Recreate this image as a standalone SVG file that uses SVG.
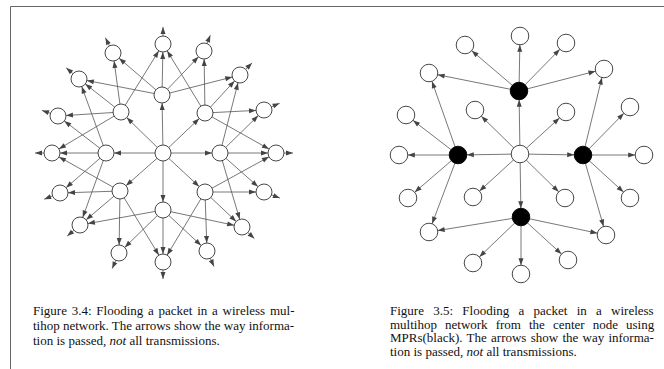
<svg xmlns="http://www.w3.org/2000/svg" width="664" height="369" viewBox="0 0 664 369">
<style>
.n{fill:#fff;stroke:#333;stroke-width:0.9}
.k{fill:#000;stroke:#000;stroke-width:0.9}
.a{stroke:#555;stroke-width:0.8;fill:none;marker-end:url(#ah)}
.b{stroke:#555;stroke-width:0.8;fill:none;marker-end:url(#bh)}
.s{stroke:#555;stroke-width:0.8;fill:none;marker-end:url(#sh)}
.frame{stroke:#666;stroke-width:1;fill:none}
.cap{font-family:"Liberation Serif","Times New Roman",serif;font-size:13px;fill:#111}
</style>
<defs>
<marker id="ah" markerUnits="userSpaceOnUse" markerWidth="16" markerHeight="6" refX="15" refY="2.5" orient="auto" overflow="visible"><path d="M0,0 L7,2.5 L0,5 z" fill="#444"/></marker>
<marker id="bh" markerUnits="userSpaceOnUse" markerWidth="17" markerHeight="6" refX="15.8" refY="2.5" orient="auto" overflow="visible"><path d="M0,0 L7,2.5 L0,5 z" fill="#444"/></marker>
<marker id="sh" markerUnits="userSpaceOnUse" markerWidth="8" markerHeight="6" refX="7" refY="2.5" orient="auto" overflow="visible"><path d="M0,0 L7,2.5 L0,5 z" fill="#444"/></marker>
</defs>
<rect width="664" height="369" fill="#fff"/>
<path class="frame" d="M10.5,369 V6.5 H664"/>

<g id="connectors-left">
<line class="a" x1="163" y1="153" x2="162" y2="95"/>
<line class="a" x1="163" y1="153" x2="205" y2="113"/>
<line class="a" x1="163" y1="153" x2="220" y2="153"/>
<line class="a" x1="163" y1="153" x2="205" y2="192"/>
<line class="a" x1="163" y1="153" x2="163" y2="210"/>
<line class="a" x1="163" y1="153" x2="120" y2="191"/>
<line class="a" x1="163" y1="153" x2="106" y2="153"/>
<line class="a" x1="163" y1="153" x2="121" y2="112"/>
<line class="a" x1="162" y1="95" x2="79" y2="79"/>
<line class="a" x1="162" y1="95" x2="113" y2="53"/>
<line class="a" x1="162" y1="95" x2="163" y2="44"/>
<line class="a" x1="162" y1="95" x2="204" y2="51"/>
<line class="a" x1="162" y1="95" x2="240" y2="75"/>
<line class="a" x1="205" y1="113" x2="163" y2="44"/>
<line class="a" x1="205" y1="113" x2="204" y2="51"/>
<line class="a" x1="205" y1="113" x2="240" y2="75"/>
<line class="a" x1="205" y1="113" x2="264" y2="110"/>
<line class="a" x1="205" y1="113" x2="276" y2="153"/>
<line class="a" x1="220" y1="153" x2="240" y2="75"/>
<line class="a" x1="220" y1="153" x2="264" y2="110"/>
<line class="a" x1="220" y1="153" x2="276" y2="153"/>
<line class="a" x1="220" y1="153" x2="264" y2="192"/>
<line class="a" x1="220" y1="153" x2="242" y2="227"/>
<line class="a" x1="205" y1="192" x2="276" y2="153"/>
<line class="a" x1="205" y1="192" x2="264" y2="192"/>
<line class="a" x1="205" y1="192" x2="242" y2="227"/>
<line class="a" x1="205" y1="192" x2="207" y2="251"/>
<line class="a" x1="205" y1="192" x2="163" y2="262"/>
<line class="a" x1="163" y1="210" x2="242" y2="227"/>
<line class="a" x1="163" y1="210" x2="207" y2="251"/>
<line class="a" x1="163" y1="210" x2="163" y2="262"/>
<line class="a" x1="163" y1="210" x2="119" y2="253"/>
<line class="a" x1="163" y1="210" x2="80" y2="225"/>
<line class="a" x1="120" y1="191" x2="163" y2="262"/>
<line class="a" x1="120" y1="191" x2="119" y2="253"/>
<line class="a" x1="120" y1="191" x2="80" y2="225"/>
<line class="a" x1="120" y1="191" x2="60" y2="193"/>
<line class="a" x1="120" y1="191" x2="52" y2="153"/>
<line class="a" x1="106" y1="153" x2="80" y2="225"/>
<line class="a" x1="106" y1="153" x2="60" y2="193"/>
<line class="a" x1="106" y1="153" x2="52" y2="153"/>
<line class="a" x1="106" y1="153" x2="58" y2="116"/>
<line class="a" x1="106" y1="153" x2="79" y2="79"/>
<line class="a" x1="121" y1="112" x2="52" y2="153"/>
<line class="a" x1="121" y1="112" x2="58" y2="116"/>
<line class="a" x1="121" y1="112" x2="79" y2="79"/>
<line class="a" x1="121" y1="112" x2="113" y2="53"/>
<line class="a" x1="121" y1="112" x2="163" y2="44"/>
<line class="s" x1="163" y1="44" x2="163" y2="27"/>
<line class="s" x1="204" y1="51" x2="210.3" y2="35.2"/>
<line class="s" x1="240" y1="75" x2="252" y2="62.9"/>
<line class="s" x1="264" y1="110" x2="279.6" y2="103.3"/>
<line class="s" x1="276" y1="153" x2="293" y2="153"/>
<line class="s" x1="264" y1="192" x2="279.9" y2="198.1"/>
<line class="s" x1="242" y1="227" x2="254.4" y2="238.6"/>
<line class="s" x1="207" y1="251" x2="214" y2="266.5"/>
<line class="s" x1="163" y1="262" x2="163" y2="279"/>
<line class="s" x1="119" y1="253" x2="112.2" y2="268.6"/>
<line class="s" x1="80" y1="225" x2="67.2" y2="236.1"/>
<line class="s" x1="60" y1="193" x2="44.2" y2="199.2"/>
<line class="s" x1="52" y1="153" x2="35" y2="153"/>
<line class="s" x1="58" y1="116" x2="42" y2="110.4"/>
<line class="s" x1="79" y1="79" x2="66.2" y2="67.8"/>
<line class="s" x1="113" y1="53" x2="105.4" y2="37.8"/>
</g>

<g id="connectors-right">
<line class="b" x1="520" y1="154" x2="519" y2="91"/>
<line class="b" x1="520" y1="154" x2="458" y2="155"/>
<line class="b" x1="520" y1="154" x2="583" y2="155"/>
<line class="b" x1="520" y1="154" x2="521" y2="217"/>
<line class="b" x1="520" y1="154" x2="475" y2="110"/>
<line class="b" x1="520" y1="154" x2="566" y2="112"/>
<line class="b" x1="520" y1="154" x2="473" y2="197"/>
<line class="b" x1="520" y1="154" x2="565" y2="198"/>
<line class="b" x1="519" y1="91" x2="520" y2="36"/>
<line class="b" x1="519" y1="91" x2="465" y2="45"/>
<line class="b" x1="519" y1="91" x2="566" y2="43"/>
<line class="b" x1="519" y1="91" x2="429" y2="73"/>
<line class="b" x1="519" y1="91" x2="604" y2="69"/>
<line class="b" x1="458" y1="155" x2="429" y2="73"/>
<line class="b" x1="458" y1="155" x2="406" y2="115"/>
<line class="b" x1="458" y1="155" x2="399" y2="155"/>
<line class="b" x1="458" y1="155" x2="408" y2="198"/>
<line class="b" x1="458" y1="155" x2="429" y2="232"/>
<line class="b" x1="583" y1="155" x2="604" y2="69"/>
<line class="b" x1="583" y1="155" x2="630" y2="107"/>
<line class="b" x1="583" y1="155" x2="644" y2="155"/>
<line class="b" x1="583" y1="155" x2="630" y2="198"/>
<line class="b" x1="583" y1="155" x2="606" y2="235"/>
<line class="b" x1="521" y1="217" x2="429" y2="232"/>
<line class="b" x1="521" y1="217" x2="606" y2="235"/>
<line class="b" x1="521" y1="217" x2="473" y2="263"/>
<line class="b" x1="521" y1="217" x2="521" y2="274"/>
<line class="b" x1="521" y1="217" x2="568" y2="260"/>
</g>

<g id="left-nodes">
<g id="L-C"><circle class="n" cx="163" cy="153" r="8"/></g>
<g id="L-I0"><circle class="n" cx="162" cy="95" r="8"/></g>
<g id="L-I1"><circle class="n" cx="205" cy="113" r="8"/></g>
<g id="L-I2"><circle class="n" cx="220" cy="153" r="8"/></g>
<g id="L-I3"><circle class="n" cx="205" cy="192" r="8"/></g>
<g id="L-I4"><circle class="n" cx="163" cy="210" r="8"/></g>
<g id="L-I5"><circle class="n" cx="120" cy="191" r="8"/></g>
<g id="L-I6"><circle class="n" cx="106" cy="153" r="8"/></g>
<g id="L-I7"><circle class="n" cx="121" cy="112" r="8"/></g>
<g id="L-O0"><circle class="n" cx="163" cy="44" r="8"/></g>
<g id="L-O1"><circle class="n" cx="204" cy="51" r="8"/></g>
<g id="L-O2"><circle class="n" cx="240" cy="75" r="8"/></g>
<g id="L-O3"><circle class="n" cx="264" cy="110" r="8"/></g>
<g id="L-O4"><circle class="n" cx="276" cy="153" r="8"/></g>
<g id="L-O5"><circle class="n" cx="264" cy="192" r="8"/></g>
<g id="L-O6"><circle class="n" cx="242" cy="227" r="8"/></g>
<g id="L-O7"><circle class="n" cx="207" cy="251" r="8"/></g>
<g id="L-O8"><circle class="n" cx="163" cy="262" r="8"/></g>
<g id="L-O9"><circle class="n" cx="119" cy="253" r="8"/></g>
<g id="L-O10"><circle class="n" cx="80" cy="225" r="8"/></g>
<g id="L-O11"><circle class="n" cx="60" cy="193" r="8"/></g>
<g id="L-O12"><circle class="n" cx="52" cy="153" r="8"/></g>
<g id="L-O13"><circle class="n" cx="58" cy="116" r="8"/></g>
<g id="L-O14"><circle class="n" cx="79" cy="79" r="8"/></g>
<g id="L-O15"><circle class="n" cx="113" cy="53" r="8"/></g>
</g>

<g id="right-nodes">
<g id="R-C"><circle class="n" cx="520" cy="154" r="8.8"/></g>
<g id="R-MPR-top"><circle class="k" cx="519" cy="91" r="8.8"/></g>
<g id="R-MPR-left"><circle class="k" cx="458" cy="155" r="8.8"/></g>
<g id="R-MPR-right"><circle class="k" cx="583" cy="155" r="8.8"/></g>
<g id="R-MPR-bottom"><circle class="k" cx="521" cy="217" r="8.8"/></g>
<g id="R-W1"><circle class="n" cx="475" cy="110" r="8.8"/></g>
<g id="R-W2"><circle class="n" cx="566" cy="112" r="8.8"/></g>
<g id="R-W3"><circle class="n" cx="473" cy="197" r="8.8"/></g>
<g id="R-W4"><circle class="n" cx="565" cy="198" r="8.8"/></g>
<g id="R-T"><circle class="n" cx="520" cy="36" r="8.8"/></g>
<g id="R-TL"><circle class="n" cx="465" cy="45" r="8.8"/></g>
<g id="R-TR"><circle class="n" cx="566" cy="43" r="8.8"/></g>
<g id="R-TLL"><circle class="n" cx="429" cy="73" r="8.8"/></g>
<g id="R-TRR"><circle class="n" cx="604" cy="69" r="8.8"/></g>
<g id="R-L1"><circle class="n" cx="406" cy="115" r="8.8"/></g>
<g id="R-R1"><circle class="n" cx="630" cy="107" r="8.8"/></g>
<g id="R-L2"><circle class="n" cx="399" cy="155" r="8.8"/></g>
<g id="R-R2"><circle class="n" cx="644" cy="155" r="8.8"/></g>
<g id="R-L3"><circle class="n" cx="408" cy="198" r="8.8"/></g>
<g id="R-R3"><circle class="n" cx="630" cy="198" r="8.8"/></g>
<g id="R-L4"><circle class="n" cx="429" cy="232" r="8.8"/></g>
<g id="R-R4"><circle class="n" cx="606" cy="235" r="8.8"/></g>
<g id="R-B1"><circle class="n" cx="473" cy="263" r="8.8"/></g>
<g id="R-B"><circle class="n" cx="521" cy="274" r="8.8"/></g>
<g id="R-B2"><circle class="n" cx="568" cy="260" r="8.8"/></g>
</g>

<g id="caption-left" class="cap">
<text x="33" y="315" word-spacing="1.5">Figure 3.4: Flooding a packet in a wireless mul-</text>
<text x="33" y="330">tihop network. The arrows show the way informa-</text>
<text x="33" y="345">tion is passed, <tspan font-style="italic">not</tspan> all transmissions.</text>
</g>
<g id="caption-right" class="cap">
<text x="390" y="315" word-spacing="6">Figure 3.5: Flooding a packet in a wireless</text>
<text x="390" y="328.7" word-spacing="4.8">multihop network from the center node using</text>
<text x="390" y="342.4" word-spacing="1">MPRs(black). The arrows show the way informa-</text>
<text x="390" y="356">tion is passed, <tspan font-style="italic">not</tspan> all transmissions.</text>
</g>
</svg>
